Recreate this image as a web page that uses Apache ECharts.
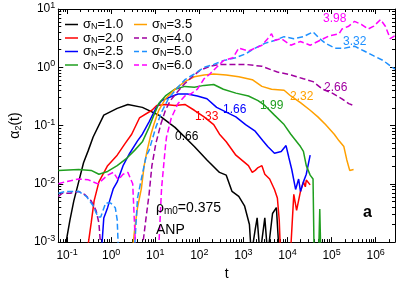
<!DOCTYPE html>
<html>
<head>
<meta charset="utf-8">
<script src="https://cdn.jsdelivr.net/npm/echarts@6/dist/echarts.min.js"></script>
<style>html,body{margin:0;padding:0;background:#fff}#c{width:399px;height:286px}</style>
</head>
<body>
<div id="c"></div>
<script>
// ---- data (t, alpha_2) ----
const sigmaN = ['1.0', '2.0', '2.5', '3.0', '3.5', '4.0', '5.0', '6.0'];
const colors = ['#000000', '#ff0000', '#0000ff', '#1f9f1f', '#ffa000', '#a000a0', '#1e90ff', '#ff00ff'];
const dashed = [false, false, false, false, false, true, true, true];

const s10 = [[0.09,0.0008],[0.116,0.00238],[0.142,0.0051],[0.183,0.0108],[0.236,0.023],[0.303,0.0375],[0.39,0.0635],[0.68,0.151],[1.37,0.197],[2.39,0.23],[5.1,0.205],[12,0.151],[28,0.093],[77,0.0436],[149,0.0257],[287,0.0157],[408,0.0141],[552,0.0074],[785,0.0061],[1060,0.0042],[1370,0.002],[1510,0.0006],[1850,0.00163],[2050,0.0026],[2380,0.0006],[3060,0.0026],[3560,0.0006],[4580,0.0031],[5600,0.0039],[6500,0.0006]];
const s20 = [[0.30,0.0009],[0.352,0.00213],[0.41,0.0051],[0.527,0.0108],[0.83,0.0205],[1.37,0.031],[2.06,0.049],[2.92,0.071],[4.38,0.135],[8.4,0.183],[10.8,0.221],[17,0.23],[28,0.221],[47,0.23],[77,0.183],[128,0.141],[212,0.104],[287,0.071],[408,0.0526],[675,0.031],[1300,0.0205],[1590,0.0157],[1850,0.017],[2150,0.019],[2630,0.0205],[3060,0.0146],[3940,0.0121],[5070,0.008],[5900,0.0057],[6500,0.0024],[6860,0.0008],[11900,0.0008],[13900,0.0066],[16100,0.0035],[19700,0.0074],[23000,0.0108],[25400,0.0089],[26700,0.0116],[32700,0.0096]];
const s25 = [[0.61,0.0008],[0.68,0.0026],[0.83,0.0039],[1.12,0.0083],[1.37,0.0108],[1.86,0.0205],[2.64,0.0335],[3.96,0.0547],[5.1,0.071],[7.24,0.116],[10.3,0.197],[13.9,0.267],[19.9,0.30],[32.8,0.347],[54,0.347],[90,0.322],[149,0.288],[247,0.205],[408,0.17],[675,0.141],[1120,0.104],[1850,0.08],[2770,0.0547],[3560,0.0436],[5070,0.0335],[7210,0.036],[9270,0.0453],[10800,0.0277],[12500,0.0176],[15300,0.008],[17900,0.0121],[19700,0.0074],[23000,0.0108],[26700,0.0146],[32700,0.031]];
const s30 = [[0.0635,0.017],[0.183,0.0176],[0.352,0.017],[0.527,0.0146],[0.83,0.0163],[1.37,0.0205],[2.28,0.0277],[3.4,0.0375],[5.1,0.0526],[7.24,0.093],[9.3,0.151],[12,0.238],[17,0.322],[28,0.42],[47,0.47],[77,0.453],[128,0.489],[212,0.507],[351,0.42],[675,0.36],[1300,0.322],[2150,0.267],[3060,0.221],[5070,0.151],[8380,0.104],[11900,0.071],[19700,0.0436],[23000,0.036],[26700,0.0205],[32700,0.0141],[38000,0.0121],[40000,0.0008],[51400,0.0008],[54000,0.0037],[56600,0.0008]];
const s35 = [[3.08,0.0008],[3.4,0.00163],[3.96,0.0039],[4.84,0.0083],[5.6,0.0205],[6.55,0.0375],[8.0,0.071],[9.3,0.104],[12,0.183],[17,0.288],[28,0.42],[47,0.567],[77,0.686],[128,0.74],[212,0.767],[408,0.74],[785,0.686],[1590,0.612],[2630,0.47],[4350,0.42],[8380,0.404],[11900,0.322],[19700,0.247],[32700,0.183],[48900,0.141],[73000,0.104],[115000,0.071],[148000,0.0547],[190000,0.0436],[222000,0.0257],[258000,0.017],[316000,0.0176]];
const s40 = [[0.0635,0.0061],[0.078,0.0069],[0.116,0.0069],[0.183,0.0074],[0.248,0.0066],[0.352,0.0051],[0.453,0.0035],[0.527,0.00213],[0.58,0.0008],[5.1,0.0008],[6.22,0.0027],[7.24,0.0066],[8.4,0.0205],[10.3,0.049],[13.3,0.104],[17,0.183],[21.9,0.267],[32.8,0.389],[47,0.526],[77,0.74],[105,0.893],[173,1.04],[287,1.12],[581,1.12],[1120,1.12],[2630,1.04],[5900,0.828],[11900,0.74],[23000,0.635],[38000,0.567],[63000,0.42],[104000,0.36],[172000,0.288],[245000,0.238],[316000,0.221]];
const s50 = [[0.0635,0.0069],[0.09,0.0074],[0.183,0.0074],[0.274,0.0061],[0.39,0.0042],[0.5,0.0027],[0.58,0.0027],[0.75,0.0047],[0.97,0.0047],[1.24,0.0039],[1.37,0.0024],[1.45,0.0008],[3.4,0.0008],[3.96,0.0057],[4.84,0.0121],[6.22,0.0299],[7.24,0.0375],[10.3,0.093],[13.9,0.17],[19.9,0.288],[29.7,0.42],[47,0.612],[77,0.767],[128,1.0],[212,1.12],[351,1.3],[675,1.46],[1120,1.7],[1850,2.13],[3060,2.57],[5070,2.88],[8380,3.35],[13900,3.1],[23000,3.35],[38000,4.05],[54000,3.1],[73000,2.57],[121000,2.13],[200000,2.13],[332000,2.3],[550000,1.9],[908000,1.57],[1500000,1.3],[2370000,1.0],[2750000,0.93]];
const s60 = [[0.0635,0.01],[0.09,0.0108],[0.183,0.0121],[0.303,0.0117],[0.5,0.01],[0.83,0.0141],[1.12,0.0157],[1.45,0.0117],[1.86,0.0146],[2.39,0.0157],[3.08,0.01],[3.58,0.0008],[12,0.0008],[13.9,0.0083],[17,0.0436],[18,0.0635],[23.1,0.135],[32.8,0.238],[47,0.322],[63,0.347],[90,0.42],[128,0.635],[173,0.767],[247,1.0],[351,1.3],[581,1.46],[785,2.13],[1300,1.9],[2630,2.39],[3560,3.1],[4350,3.75],[5070,2.88],[7210,3.1],[11900,2.39],[19700,2.77],[32700,2.39],[54000,2.88],[89500,3.48],[148000,3.75],[172000,4.53],[245000,5.07],[332000,6.13],[472000,5.47],[672000,4.53],[908000,5.07],[1290000,6.6],[1660000,5.07],[2140000,3.1],[2750000,3.48]];
const allSeries = [s10, s20, s25, s30, s35, s40, s50, s60];

// axis range and tick labels (decades)
const xMin = 0.063, xMax = 2.75e6;
const yMin = 1e-3, yMax = 10;
const xDecades = [-1, 0, 1, 2, 3, 4, 5, 6];
const yDecades = [-3, -2, -1, 0, 1];

// curve annotations
const curveLabels = ['0.66', '1.33', '1.66', '1.99', '2.32', '2.66', '3.32', '3.98'];

// ---- build ----
const FONT = '"Liberation Sans", Arial, Helvetica, sans-serif';
const L = Math.log10;
function minorTicks(lo, hi) {
  const out = [];
  for (let n = Math.floor(lo) - 1; n <= Math.ceil(hi); n++) {
    for (let k = 2; k <= 9; k++) {
      const v = n + L(k);
      if (v > lo && v < hi) out.push(v);
    }
  }
  return out;
}
const xlo = L(xMin), xhi = L(xMax), ylo = L(yMin), yhi = L(yMax);
const xMinor = minorTicks(xlo, xhi), yMinor = minorTicks(ylo, yhi);

const labRich = {
  b: { fontSize: 12, fontFamily: FONT, color: '#000', lineHeight: 16 },
  s: { fontSize: 9, fontFamily: FONT, color: '#000', lineHeight: 9, verticalAlign: 'top' }
};
const pow = v => '{b|10}{s|' + String(Math.round(v)) + '}';

function axLine(major) {
  return { show: major, onZero: false, lineStyle: { color: '#000', width: 1 } };
}
function xAx(pos, major, labels, extra) {
  return Object.assign({
    type: 'value', min: xlo, max: xhi, position: pos, gridIndex: 0,
    axisLine: axLine(major),
    axisTick: { show: true, inside: true, length: major ? 5 : 3, lineStyle: { color: '#000', width: 1 },
      customValues: major ? xDecades : xMinor },
    axisLabel: labels ? { show: true, customValues: xDecades, formatter: pow, rich: labRich, margin: 6 } : { show: false },
    splitLine: { show: false }
  }, extra || {});
}
function yAx(pos, major, labels, extra) {
  return Object.assign({
    type: 'value', min: ylo, max: yhi, position: pos, gridIndex: 0,
    axisLine: axLine(major),
    axisTick: { show: true, inside: true, length: major ? 5 : 3, lineStyle: { color: '#000', width: 1 },
      customValues: major ? yDecades : yMinor },
    axisLabel: labels ? { show: true, customValues: yDecades, formatter: pow, rich: labRich, margin: 3 } : { show: false },
    splitLine: { show: false }
  }, extra || {});
}

const series = allSeries.map((d, i) => ({
  name: sigmaN[i],
  type: 'line',
  xAxisIndex: 0, yAxisIndex: 0,
  data: d.map(p => [L(p[0]), L(p[1])]),
  showSymbol: false, symbol: 'none',
  clip: true,
  color: colors[i],
  lineStyle: { color: colors[i], width: 1.5, type: dashed[i] ? [6, 3] : 'solid' },
  emphasis: { disabled: true },
  z: 2 + i
}));

const legRich = {
  a: { fontSize: 13, fontFamily: FONT, color: '#000', lineHeight: 14 },
  s: { fontSize: 9, fontFamily: FONT, color: '#000', lineHeight: 8, verticalAlign: 'bottom' }
};
const solidIcon = 'path://M0,0h13v1.5h-13z';
const dashIcon = 'path://M0,0h5v1.5h-5z M8,0h5v1.5h-5z';
function legend(idx, left) {
  return {
    data: idx.map(i => ({ name: sigmaN[i], icon: dashed[i] ? dashIcon : solidIcon })),
    left: left, top: 18, orient: 'vertical', padding: 0,
    itemWidth: 13, itemHeight: 1.5, itemGap: 0,
    formatter: n => '{a|σ}{s|N}{a|=' + n + '}',
    textStyle: { rich: legRich },
    selectedMode: false
  };
}

function txt(x, y, text, color, size, weight) {
  return { type: 'text', x: x, y: y, z: 50,
    style: { text: text, fill: color, font: (weight || 'normal') + ' ' + size + 'px ' + FONT, textVerticalAlign: 'middle' } };
}
const annPos = [[175,137],[195,117],[223,110],[260,106],[290,97],[324,88],[343,42],[323,19]];
const graphics = curveLabels.map((t, i) => txt(annPos[i][0], annPos[i][1], t, colors[i], 12));
graphics.push({ type: 'text', x: 156, y: 208, z: 50,
  style: { text: '{a|ρ}{s|m0}{a|=0.375}', textVerticalAlign: 'middle',
    rich: { a: { fontSize: 14, fontFamily: FONT, fill: '#000', lineHeight: 16 },
            s: { fontSize: 10, fontFamily: FONT, fill: '#000', lineHeight: 9, verticalAlign: 'bottom' } } } });
graphics.push(txt(156, 230, 'ANP', '#000', 14));
graphics.push(txt(363, 213, 'a', '#000', 16, 'bold'));

const chart = echarts.init(document.getElementById('c'), null, { renderer: 'canvas' });
chart.setOption({
  animation: false,
  backgroundColor: '#fff',
  grid: { left: 46, right: 4, top: 9, bottom: 33, containLabel: false },
  xAxis: [
    xAx('bottom', true, true, { name: 't', nameLocation: 'middle', nameGap: 23,
      nameTextStyle: { fontSize: 14, fontFamily: FONT, color: '#000' } }),
    xAx('bottom', false, false),
    xAx('top', true, false),
    xAx('top', false, false)
  ],
  yAxis: [
    yAx('left', true, true, { name: '{a|α}{s|2}{a|(t)}', nameLocation: 'middle', nameRotate: 90, nameGap: 33,
      nameTextStyle: { rich: { a: { fontSize: 14, fontFamily: FONT, color: '#000', lineHeight: 16 },
                               s: { fontSize: 9, fontFamily: FONT, color: '#000', lineHeight: 8, verticalAlign: 'bottom' } } } }),
    yAx('left', false, false),
    yAx('right', true, false),
    yAx('right', false, false)
  ],
  legend: [legend([0, 1, 2, 3], 65), legend([4, 5, 6, 7], 134)],
  series: series,
  graphic: graphics
});
</script>
</body>
</html>
